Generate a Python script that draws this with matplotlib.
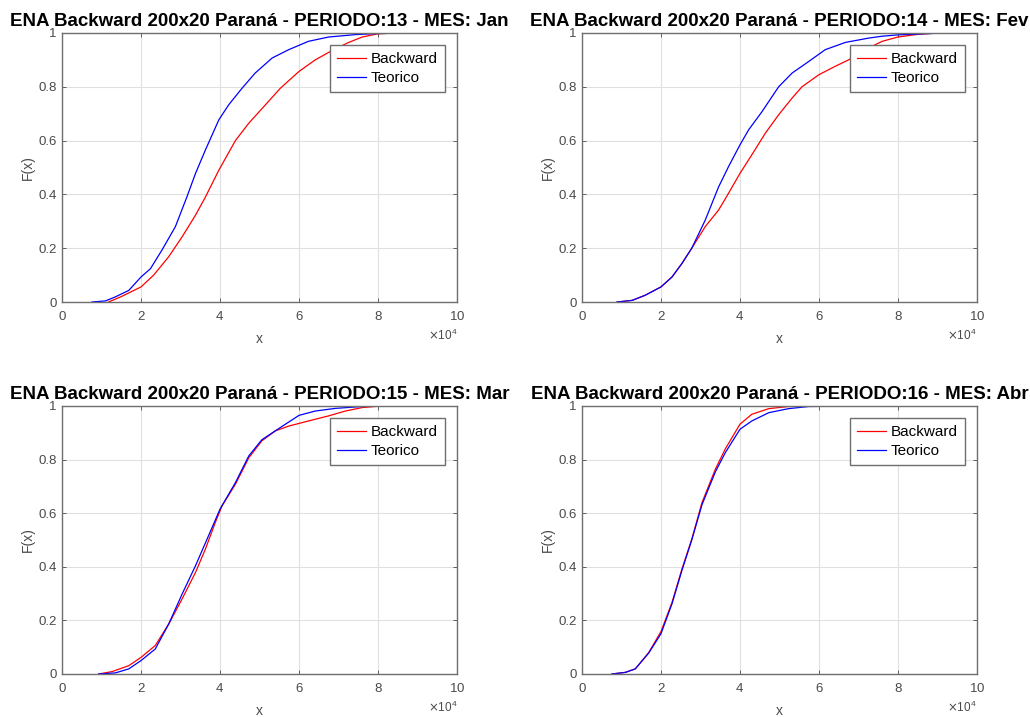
import numpy as np
import matplotlib
matplotlib.use("Agg")
import matplotlib.pyplot as plt
from matplotlib.ticker import ScalarFormatter, FuncFormatter

plt.rcParams['font.family'] = ['Liberation Sans', 'DejaVu Sans']

# titles for the four panels
titles = [
    'ENA Backward 200x20 Paraná - PERIODO:13 - MES: Jan',
    'ENA Backward 200x20 Paraná - PERIODO:14 - MES: Fev',
    'ENA Backward 200x20 Paraná - PERIODO:15 - MES: Mar',
    'ENA Backward 200x20 Paraná - PERIODO:16 - MES: Abr',
]

# Jan (periodo 13), x in units of 1e4
jan_back_x = [1.18, 1.5, 2.0, 2.32, 2.7, 3.04, 3.38, 3.63, 3.97, 4.39, 4.73, 5.15, 5.53, 6.0, 6.41, 6.84, 7.26, 7.6, 8.0, 8.5, 10.0]
jan_back_y = [0.0, 0.02, 0.056, 0.10, 0.168, 0.242, 0.323, 0.39, 0.49, 0.60, 0.665, 0.733, 0.795, 0.857, 0.90, 0.935, 0.965, 0.985, 0.997, 1.0, 1.0]
jan_teo_x = [0.76, 1.1, 1.35, 1.69, 2.0, 2.24, 2.53, 2.87, 3.16, 3.38, 3.63, 3.97, 4.22, 4.56, 4.89, 5.32, 5.74, 6.24, 6.75, 7.43, 8.0, 9.0, 10.0]
jan_teo_y = [0.0, 0.004, 0.019, 0.043, 0.093, 0.124, 0.193, 0.28, 0.39, 0.478, 0.565, 0.677, 0.733, 0.795, 0.851, 0.907, 0.938, 0.969, 0.985, 0.994, 0.998, 1.0, 1.0]

# Fev (periodo 14)
fev_back_x = [0.89, 1.27, 1.6, 2.0, 2.28, 2.53, 2.78, 3.12, 3.46, 3.71, 4.0, 4.3, 4.64, 4.98, 5.32, 5.57, 6.0, 6.41, 6.75, 7.17, 7.6, 8.0, 8.5, 9.0, 10.0]
fev_back_y = [0.0, 0.006, 0.025, 0.056, 0.093, 0.143, 0.20, 0.28, 0.342, 0.404, 0.478, 0.547, 0.627, 0.696, 0.758, 0.80, 0.845, 0.876, 0.90, 0.938, 0.969, 0.985, 0.995, 1.0, 1.0]
fev_teo_x = [0.89, 1.27, 1.6, 2.0, 2.28, 2.53, 2.78, 3.12, 3.46, 3.71, 4.0, 4.22, 4.56, 4.98, 5.32, 5.74, 6.16, 6.67, 7.26, 7.6, 8.0, 9.0, 10.0]
fev_teo_y = [0.0, 0.006, 0.025, 0.056, 0.093, 0.143, 0.20, 0.304, 0.428, 0.503, 0.584, 0.64, 0.708, 0.80, 0.851, 0.894, 0.938, 0.965, 0.981, 0.988, 0.993, 0.999, 1.0]

# Mar (periodo 15)
mar_back_x = [0.93, 1.27, 1.69, 2.0, 2.36, 2.7, 3.04, 3.38, 3.63, 3.88, 4.05, 4.39, 4.73, 5.06, 5.4, 5.74, 6.24, 6.75, 7.17, 7.6, 8.0, 9.6]
mar_back_y = [0.0, 0.009, 0.031, 0.062, 0.106, 0.186, 0.28, 0.379, 0.466, 0.565, 0.627, 0.708, 0.807, 0.87, 0.907, 0.925, 0.944, 0.963, 0.981, 0.994, 0.999, 1.0]
mar_teo_x = [0.93, 1.35, 1.69, 2.0, 2.36, 2.7, 3.04, 3.38, 3.71, 4.0, 4.39, 4.73, 5.06, 5.49, 6.0, 6.41, 6.92, 7.6, 8.0, 9.6]
mar_teo_y = [0.0, 0.004, 0.019, 0.05, 0.093, 0.186, 0.298, 0.404, 0.516, 0.615, 0.714, 0.814, 0.874, 0.916, 0.965, 0.981, 0.991, 0.998, 0.999, 1.0]

# Abr (periodo 16)
abr_back_x = [0.76, 1.1, 1.35, 1.69, 2.0, 2.28, 2.53, 2.78, 3.04, 3.38, 3.63, 4.0, 4.3, 4.73, 5.23, 6.0, 7.0]
abr_back_y = [0.0, 0.006, 0.019, 0.08, 0.158, 0.267, 0.391, 0.503, 0.64, 0.765, 0.84, 0.932, 0.969, 0.99, 0.998, 1.0, 1.0]
abr_teo_x = [0.76, 1.1, 1.35, 1.69, 2.0, 2.28, 2.53, 2.78, 3.04, 3.38, 3.63, 4.0, 4.3, 4.73, 5.23, 5.74, 7.0]
abr_teo_y = [0.0, 0.006, 0.019, 0.078, 0.15, 0.262, 0.386, 0.50, 0.632, 0.755, 0.826, 0.913, 0.944, 0.975, 0.99, 0.998, 1.0]

series = [
    (jan_back_x, jan_back_y, jan_teo_x, jan_teo_y),
    (fev_back_x, fev_back_y, fev_teo_x, fev_teo_y),
    (mar_back_x, mar_back_y, mar_teo_x, mar_teo_y),
    (abr_back_x, abr_back_y, abr_teo_x, abr_teo_y),
]
x_scale = 1e4

fig = plt.figure(figsize=(10.3, 7.17), dpi=100)
positions = [
    [0.0602, 0.5788, 0.3835, 0.3752],
    [0.5650, 0.5788, 0.3835, 0.3752],
    [0.0602, 0.0600, 0.3835, 0.3738],
    [0.5650, 0.0600, 0.3835, 0.3738],
]

text_gray = '#4a4a4a'
box_gray = '#6e6e6e'

for pos, title, (bx, by, tx, ty) in zip(positions, titles, series):
    ax = fig.add_axes(pos)
    ax.plot(np.array(bx) * x_scale, by, color='#ff0000', linewidth=0.9, label='Backward')
    ax.plot(np.array(tx) * x_scale, ty, color='#0000ff', linewidth=0.9, label='Teorico')
    ax.set_xlim(0, 100000)
    ax.set_ylim(0, 1)
    ax.set_xticks(np.arange(0, 100001, 20000))
    ax.set_yticks(np.arange(0, 1.01, 0.2))

    fmt = ScalarFormatter(useMathText=True)
    fmt.set_powerlimits((4, 4))
    ax.xaxis.set_major_formatter(fmt)
    ax.yaxis.set_major_formatter(FuncFormatter(lambda v, p: '%g' % round(v, 2)))
    ax.xaxis.get_offset_text().set_fontsize(8.5)
    ax.xaxis.get_offset_text().set_color('#666666')

    ax.grid(True, color='#e0e0e0', linewidth=0.8)
    ax.set_axisbelow(True)
    ax.tick_params(direction='in', top=True, right=True, length=3,
                   labelsize=9.5, colors=text_gray, width=0.6)
    ax.tick_params(axis='x', pad=6)
    ax.tick_params(axis='y', pad=4)
    for s in ax.spines.values():
        s.set_color(box_gray)
        s.set_linewidth(1.0)

    ax.set_xlabel('x', fontsize=10, color=text_gray, labelpad=6)
    ax.set_ylabel('F(x)', fontsize=10, color=text_gray, labelpad=2)
    ax.set_title(title, fontsize=13.5, fontweight='bold', pad=5)

    leg = ax.legend(loc='upper right', fontsize=11, fancybox=False,
                    edgecolor=box_gray, framealpha=1, borderaxespad=0.8,
                    handlelength=1.9, borderpad=0.45, labelspacing=0.35,
                    handletextpad=0.3)
    leg.get_frame().set_linewidth(1.0)

fig.savefig('out.png', dpi=100)
